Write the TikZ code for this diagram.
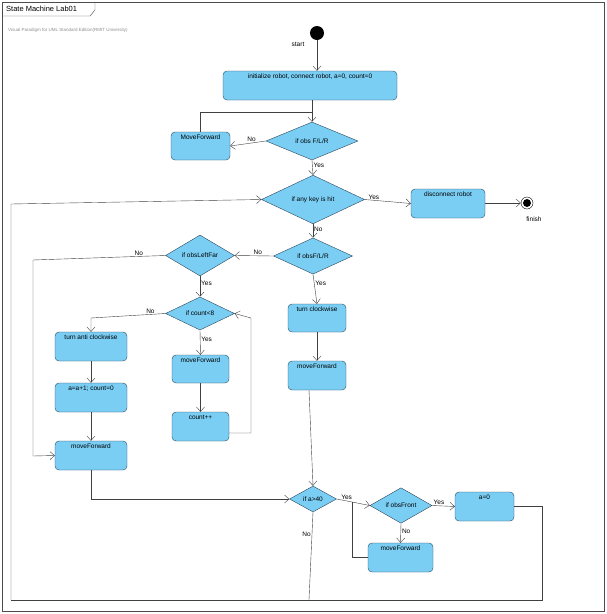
\documentclass[tikz,border=0pt]{standalone}
\usepackage{fontspec}
\setmainfont{Liberation Sans}
\usetikzlibrary{shapes.geometric,arrows.meta}
\definecolor{actfill}{RGB}{122,206,244}
\definecolor{actline}{RGB}{45,70,90}
\tikzset{
  act/.style={draw=actline,fill=actfill,rounded corners=4pt,minimum width=#1,minimum height=29pt,inner sep=0pt},
  dec/.style={draw=actline,fill=actfill,diamond,inner sep=0pt,font=\fontsize{6.5}{7}\selectfont},
  lbl/.style={font=\fontsize{6.5}{7}\selectfont,inner sep=1pt},
  flow/.style={draw=black!75,-{Straight Barb[length=4.5pt,width=8pt]}},
  wire/.style={draw=black!75}
}
\newcommand{\acttext}[2]{\node[lbl,anchor=north] at ([yshift=-2pt]#1.north) {#2};}
\begin{document}
\begin{tikzpicture}[x=1pt,y=-1pt]
    \useasboundingbox (0,0) rectangle (606,614);
    \draw[black!70] (2,2) rectangle (604,611);
    \draw[black!70] (2,16) -- (90,16) -- (95,10) -- (95,2);
    \node[anchor=west,font=\fontsize{7.5}{8}\selectfont,inner sep=0pt] (title) at (6,9) {State Machine Lab01};
    \node[anchor=west,font=\fontsize{4.5}{5}\selectfont,text=black!45,inner sep=0pt] (vp) at (8,30) {Visual Paradigm for UML Standard Edition(RMIT University)};
    %initial and final states
    \node[circle,fill=black,minimum size=14pt,inner sep=0pt] (start) at (317,33) {};
    \node[lbl] (startl) at (298,44) {start};
    \node[circle,draw,minimum size=12pt,inner sep=0pt] (fin) at (527,203) {};
    \fill (fin) circle (4pt);
    \node[lbl] (finl) at (534,219) {finish};
    %actions
    \node[act=174pt] (init) at (310,85.5) {}; \acttext{init}{initialize robot, connect robot, a=0, count=0}
    \node[act=59pt,minimum height=28pt] (mfa) at (200.5,146) {}; \acttext{mfa}{MoveForward}
    \node[act=74pt] (disc) at (448,203.5) {}; \acttext{disc}{disconnect robot}
    \node[act=72pt] (tac) at (91,346.5) {}; \acttext{tac}{turn anti clockwise}
    \node[act=72pt] (inca) at (91,397.5) {}; \acttext{inca}{a=a+1; count=0}
    \node[act=72pt] (mfl) at (91,455.5) {}; \acttext{mfl}{moveForward}
    \node[act=57pt,minimum height=28pt] (mfm) at (200.5,369) {}; \acttext{mfm}{moveForward}
    \node[act=57pt] (cnt) at (200.5,426.5) {}; \acttext{cnt}{count++}
    \node[act=58pt,minimum height=28pt] (tcw) at (317,318) {}; \acttext{tcw}{turn clockwise}
    \node[act=58pt] (mfr) at (317,375.5) {}; \acttext{mfr}{moveForward}
    \node[act=59pt] (azero) at (484.5,506.5) {}; \acttext{azero}{a=0}
    \node[act=65pt] (mfb) at (400.5,557.5) {}; \acttext{mfb}{moveForward}
    %decisions
    \node[dec,minimum width=92pt,minimum height=35pt] (obs) at (312,141) {if obs F/L/R};
    \node[dec,minimum width=103pt,minimum height=35pt] (key) at (313,199.5) {if any key is hit};
    \node[dec,minimum width=79pt,minimum height=35pt] (obsb) at (313,256) {if obsF/L/R};
    \node[dec,minimum width=69pt,minimum height=35pt] (far) at (200,255.5) {if obsLeftFar};
    \node[dec,minimum width=69pt,minimum height=33pt] (cmp) at (200,313.5) {if count<8};
    \node[dec,minimum width=47pt,minimum height=26pt] (big) at (313,499) {if a>40};
    \node[dec,minimum width=62pt,minimum height=27pt] (front) at (401,505.5) {if obsFront};
    %corner points
    \coordinate (j1) at (312,112);
    \coordinate (loopa) at (11,204);
    \coordinate (loopb) at (11,600);
    \coordinate (loopc) at (542,600);
    %connectors
    \draw[flow] (start) -- (start |- init.north);
    \draw[flow] (init.south -| j1) -- (obs.north);
    \draw[wire] (mfa.north) |- (j1);
    \draw[flow] (obs.west) -- node[lbl,above,pos=.4] {No} (mfa.east);
    \draw[flow] (obs.south) -- node[lbl,right,pos=.35] {Yes} (key.north);
    \draw[flow] (key.east) -- node[lbl,above,pos=.2] {Yes} (disc.west);
    \draw[flow] (disc.east |- fin) -- (fin.west);
    \draw[flow] (key.south) -- node[lbl,right,pos=.4] {No} (obsb.north);
    \draw[flow] (obsb.west) -- node[lbl,above,pos=.4] {No} (far.east);
    \draw[flow] (far.west) -- node[lbl,above,pos=.2] {No} (33,260) -- (33,456) -- (mfl.west);
    \draw[flow] (far.south) -- node[lbl,right,pos=.35] {Yes} (cmp.north);
    \draw[flow] (cmp.west) -- node[lbl,above,pos=.2] {No} (91,318) -- (tac.north);
    \draw[flow] (tac) -- (inca);
    \draw[flow] (inca) -- (mfl);
    \draw[flow] (mfl.south) -- (91,499) -- (big.west);
    \draw[flow] (cmp.south) -- node[lbl,right,pos=.35] {Yes} (mfm.north);
    \draw[flow] (mfm) -- (cnt);
    \draw[flow] (cnt.east |- 0,433) -- (251,433) -- (251,318) -- (cmp.east);
    \draw[flow] (obsb.south) -- node[lbl,right,pos=.3] {Yes} (tcw.north);
    \draw[flow] (tcw) -- (mfr);
    \draw[flow] (309,390) -- (big.north);
    \draw[flow] (big.east) -- node[lbl,above,pos=.3] {Yes} (front.west);
    \draw[flow] (front.east) -- node[lbl,above,pos=.3] {Yes} (azero.west);
    \draw[wire] (azero.east) -- (542,506.5) -- (loopc) -- (loopb);
    \draw[flow] (loopb) -- (loopa) -- (key.west);
    \draw[flow] (front.south) -- node[lbl,right,pos=.4] {No} (mfb.north);
    \draw[wire] (mfb.west) -- (352,557.5) -- (352,502);
    \draw[wire] (big.south) -- node[lbl,left,pos=.25] {No} (309,600);
\end{tikzpicture}
\end{document}
